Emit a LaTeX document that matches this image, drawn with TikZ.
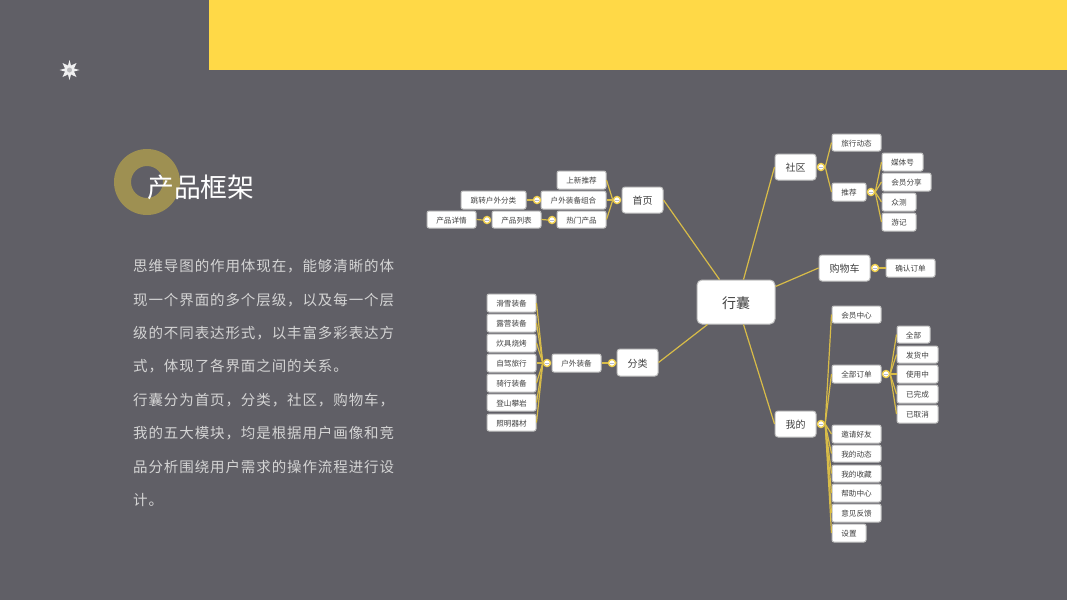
\documentclass[tikz,border=0pt]{standalone}
\usepackage{fontspec}
\setmainfont{Noto Sans CJK SC}
\newfontfamily\bodycjk[LetterSpace=6.2]{Noto Sans CJK SC}
\definecolor{bgc}{HTML}{605F66}
\definecolor{yel}{HTML}{FFD947}
\definecolor{ringc}{HTML}{9E9052}
\definecolor{linec}{HTML}{D8BC48}
\definecolor{dotc}{HTML}{F2D250}
\definecolor{txt}{HTML}{404040}
\definecolor{para}{HTML}{D4D4D4}
\definecolor{minusc}{HTML}{B4BAD0}
\tikzset{
  x=1pt,y=-1pt,
  box/.style={draw=black!25,line width=1pt,fill=white,rounded corners=2pt,inner sep=0pt,text=txt,font=\fontsize{7.6}{8}\selectfont},
  big/.style={box,rounded corners=3pt,font=\fontsize{10}{11}\selectfont},
  rootbox/.style={big,rounded corners=5pt,font=\fontsize{14}{15}\selectfont},
  dotn/.style={circle,draw=dotc,line width=1.4pt,fill=white,minimum size=7pt,inner sep=0pt},
  link/.style={draw=linec,line width=1.2pt},
  minus/.style={draw=minusc,line width=0.6pt},
  paral/.style={anchor=west,text=para,inner sep=0pt,font=\fontsize{14.5}{15}\selectfont\bodycjk},
}
\newcommand{\nd}[7]{\node[#6,minimum width=#4pt-#2pt,minimum height=#5pt-#3pt] (#1) at ({(#2+#4)/2},{(#3+#5)/2}) {\raisebox{-0.9pt}[\height][\depth]{#7}};}
\newcommand{\dt}[3]{\node[dotn] (#1) at (#2,#3) {}; \draw[minus] (#2-1.6,#3) -- (#2+1.6,#3);}
\begin{document}
\begin{tikzpicture}
\useasboundingbox (0,0) rectangle (1067,600);
\fill[bgc] (0,0) rectangle (1067,600);
\fill[yel] (209,0) rectangle (1067,70);
% star
\fill[white!90!bgc] (69.5,60) -- (71,65.5) -- (76.5,63) -- (74,68.5) -- (79.5,70) -- (74,71.5) -- (76.5,77) -- (71,74.5) -- (69.5,80) -- (68,74.5) -- (62.5,77) -- (65,71.5) -- (59.5,70) -- (65,68.5) -- (62.5,63) -- (68,65.5) -- cycle;
\fill[white!55!bgc] (69.5,70) circle (2.5);
% ring
\fill[ringc,even odd rule] (147,182) circle (33) (147,182) circle (16);
\node[anchor=west,text=white,inner sep=0pt,font=\fontsize{26.8}{27}\selectfont] (title) at (147,187.5) {产品框架};
% paragraph
\node[paral] (p1) at (133,266.5) {思维导图的作用体现在，能够清晰的体};
\node[paral] (p2) at (133,300) {现一个界面的多个层级，以及每一个层};
\node[paral] (p3) at (133,333) {级的不同表达形式，以丰富多彩表达方};
\node[paral] (p4) at (133,366.5) {式，体现了各界面之间的关系。};
\node[paral] (p5) at (133,400) {行囊分为首页，分类，社区，购物车，};
\node[paral] (p6) at (133,433.5) {我的五大模块，均是根据用户画像和竞};
\node[paral] (p7) at (133,466.5) {品分析围绕用户需求的操作流程进行设};
\node[paral] (p8) at (133,500) {计。};
% nodes
\nd{root}{697}{280}{775}{324}{rootbox}{行囊}
\nd{shou}{622}{187}{663}{213}{big}{首页}
\nd{fen}{617}{349}{658}{376}{big}{分类}
\nd{she}{775}{154}{816}{180}{big}{社区}
\nd{gou}{819}{255}{870}{281}{big}{购物车}
\nd{wo}{775}{411}{816}{437}{big}{我的}
\nd{a1}{557}{171}{606}{189}{box}{上新推荐}
\nd{a2}{541}{191}{606}{209}{box}{户外装备组合}
\nd{a3}{557}{211}{606}{228}{box}{热门产品}
\nd{a4}{461}{191}{526}{209}{box}{跳转户外分类}
\nd{a5}{492}{211}{541}{228}{box}{产品列表}
\nd{a6}{427}{211}{476}{228}{box}{产品详情}
\nd{b0}{552}{354}{601}{372}{box}{户外装备}
\nd{b1}{487}{294}{536}{312}{box}{滑雪装备}
\nd{b2}{487}{314}{536}{332}{box}{露营装备}
\nd{b3}{487}{334}{536}{352}{box}{炊具烧烤}
\nd{b4}{487}{354}{536}{372}{box}{自驾旅行}
\nd{b5}{487}{374}{536}{392}{box}{骑行装备}
\nd{b6}{487}{394}{536}{411}{box}{登山攀岩}
\nd{b7}{487}{414}{536}{431}{box}{照明器材}
\nd{c1}{832}{134}{881}{151}{box}{旅行动态}
\nd{c2}{832}{183}{866}{201}{box}{推荐}
\nd{c3}{882}{153}{923}{171}{box}{媒体号}
\nd{c4}{882}{173}{931}{191}{box}{会员分享}
\nd{c5}{882}{193}{916}{211}{box}{众测}
\nd{c6}{882}{213}{916}{231}{box}{游记}
\nd{d1}{886}{259}{935}{277}{box}{确认订单}
\nd{e1}{832}{306}{881}{323}{box}{会员中心}
\nd{e2}{832}{365}{881}{383}{box}{全部订单}
\nd{e3}{832}{425}{881}{443}{box}{邀请好友}
\nd{e4}{832}{445}{881}{462}{box}{我的动态}
\nd{e5}{832}{465}{881}{482}{box}{我的收藏}
\nd{e6}{832}{484}{881}{502}{box}{帮助中心}
\nd{e7}{832}{504}{881}{522}{box}{意见反馈}
\nd{e8}{832}{524}{866}{542}{box}{设置}
\nd{f1}{897}{326}{930}{343}{box}{全部}
\nd{f2}{897}{346}{938}{363}{box}{发货中}
\nd{f3}{897}{365}{938}{383}{box}{使用中}
\nd{f4}{897}{385}{938}{403}{box}{已完成}
\nd{f5}{897}{405}{938}{423}{box}{已取消}
% collapse dots
\dt{ds}{617}{200}
\dt{da2}{537}{200}
\dt{da3}{552}{220}
\dt{da5}{487}{220}
\dt{db0}{547}{363}
\dt{dfen}{612}{363}
\dt{dshe}{821}{167}
\dt{dc2}{871}{192}
\dt{dgou}{875}{268}
\dt{dwo}{821}{424}
\dt{de2}{886}{374}
% connectors
\path (root.north west) ++(23,0) coordinate (r1);
\path (root.south west) ++(11,0) coordinate (r2);
\path (root.north east) ++(-32,0) coordinate (r3);
\path (root.north east) ++(0,7) coordinate (r4);
\path (root.south east) ++(-32,0) coordinate (r5);
\draw[link] (r1) -- (shou.east);
\draw[link] (r2) -- (fen.east);
\draw[link] (r3) -- (she.west);
\draw[link] (r4) -- (gou.west);
\draw[link] (r5) -- (wo.west);
\foreach \n in {a1,a2,a3} \draw[link] (ds.west) -- (\n.east);
\draw[link] (da2.west) -- (a4.east);
\draw[link] (da3.west) -- (a5.east);
\draw[link] (da5.west) -- (a6.east);
\draw[link] (dfen.east) -- (fen.west);
\draw[link] (dfen.west) -- (b0.east);
\foreach \n in {b1,b2,b3,b4,b5,b6,b7} \draw[link] (db0.west) -- (\n.east);
\draw[link] (dshe.east) -- (c1.west);
\draw[link] (dshe.east) -- (c2.west);
\foreach \n in {c3,c4,c5,c6} \draw[link] (dc2.east) -- (\n.west);
\draw[link] (dgou.east) -- (d1.west);
\foreach \n in {e1,e2,e3,e4,e5,e6,e7,e8} \draw[link] (dwo.east) -- (\n.west);
\foreach \n in {f1,f2,f3,f4,f5} \draw[link] (de2.east) -- (\n.west);
\end{tikzpicture}
\end{document}
